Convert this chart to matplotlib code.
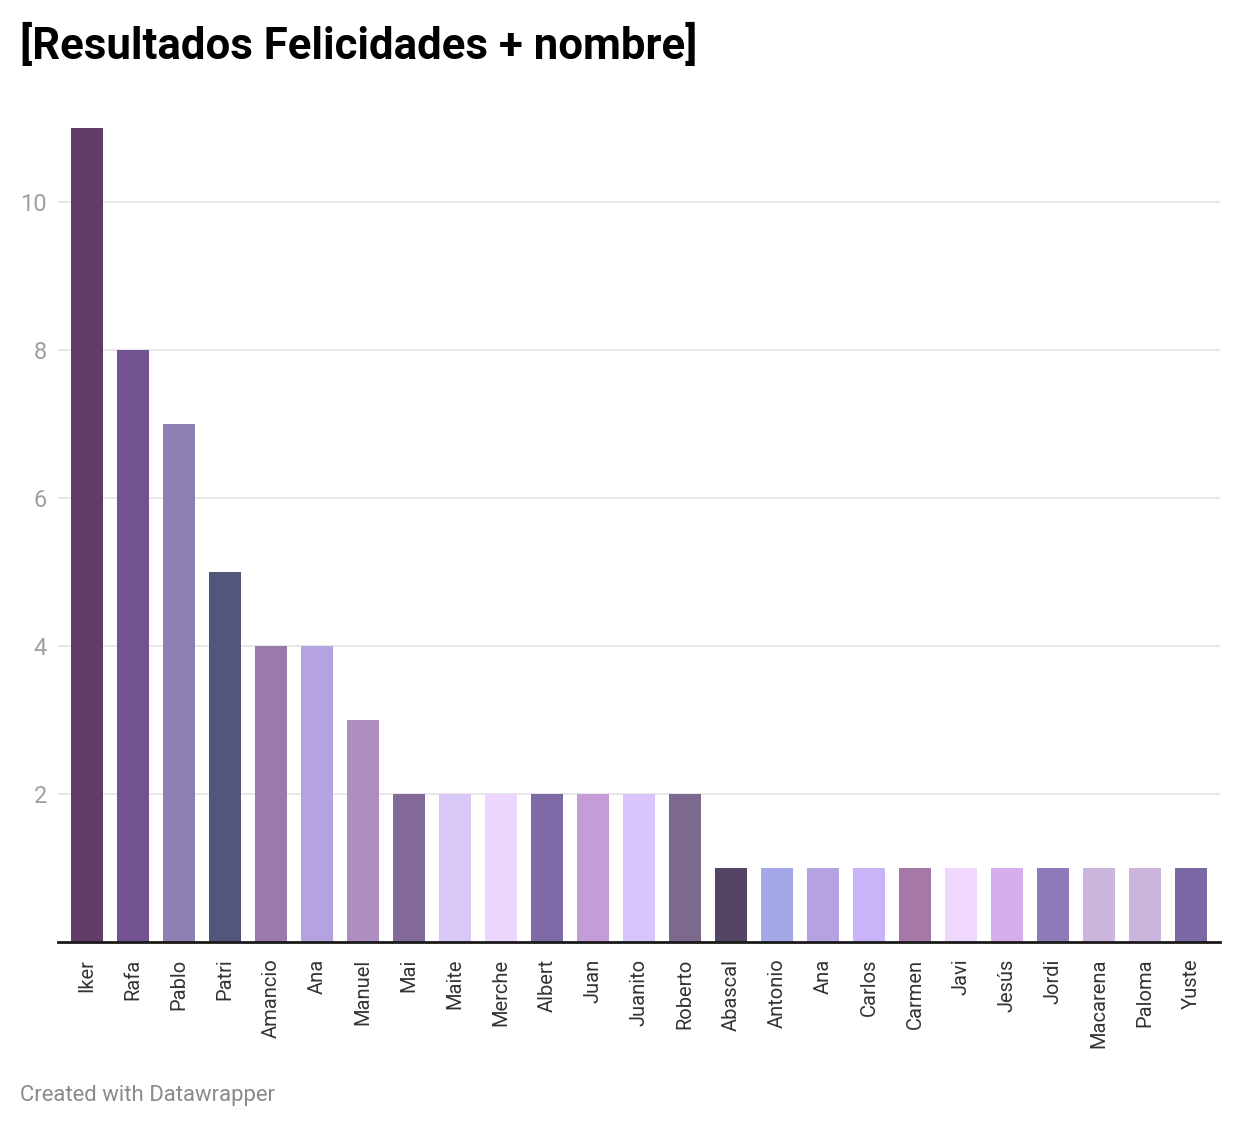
import matplotlib
matplotlib.use("Agg")
import matplotlib.pyplot as plt

names = ["Iker", "Rafa", "Pablo", "Patri", "Amancio", "Ana", "Manuel", "Mai", "Maite",
         "Merche", "Albert", "Juan", "Juanito", "Roberto", "Abascal", "Antonio", "Ana",
         "Carlos", "Carmen", "Javi", "Jesús", "Jordi", "Macarena", "Paloma", "Yuste"]
values = [11, 8, 7, 5, 4, 4, 3, 2, 2, 2, 2, 2, 2, 2, 1, 1, 1, 1, 1, 1, 1, 1, 1, 1, 1]
colors = ["#623b67", "#725391", "#8e80b2", "#52567a", "#9a7aac", "#b5a2e0", "#ae8dc0",
          "#836a98", "#d8c8f8", "#ecd6fd", "#7d6aa7", "#c49cd8", "#d8c5fb", "#7d698e",
          "#534463", "#a5a8e8", "#b5a2e0", "#c8b4f6", "#a578a7", "#efd7fd", "#d6aeee",
          "#8f7bba", "#cbb5dd", "#cbb5dd", "#7b69a6"]
yticks = [2, 4, 6, 8, 10]

plt.rcParams['font.family'] = ['Roboto', 'DejaVu Sans']

W, H = 1240, 1128
fig = plt.figure(figsize=(W / 100, H / 100), dpi=100)
left, right, bottom, top = 58, 1220, 942, 128
ax = fig.add_axes([left / W, 1 - bottom / H, (right - left) / W, (bottom - top) / H])

x = list(range(len(names)))
ax.bar(x, values, width=0.7, color=colors, zorder=2)
ax.set_xlim(-0.63, len(names) - 1 + 0.63)
ax.set_ylim(0, 11)

ax.set_yticks(yticks)
ax.set_yticklabels([str(t) for t in yticks])
ax.yaxis.grid(True, color="#e3e3e3", linewidth=1.2, zorder=0)
ax.tick_params(axis="y", length=0, pad=8, labelsize=17, labelcolor="#a0a0a0")
ax.set_xticks(x)
ax.set_xticklabels(names, rotation=90, va="top", ha="center")
ax.tick_params(axis="x", length=0, pad=12, labelsize=14.5, labelcolor="#333333")

for s in ["top", "right", "left"]:
    ax.spines[s].set_visible(False)
ax.spines["bottom"].set_color("#1a1a1a")
ax.spines["bottom"].set_linewidth(2)
ax.spines["bottom"].set_zorder(3)

fig.text(20 / W, 1 - 46 / H, "[Resultados Felicidades + nombre]", fontsize=31.5,
         fontweight="bold", color="#000000", ha="left", va="center")
fig.text(20 / W, 1 - 1095 / H, "Created with Datawrapper", fontsize=15.9,
         color="#8a8a8a", ha="left", va="center")

fig.savefig("out.png", dpi=100, facecolor="white")
